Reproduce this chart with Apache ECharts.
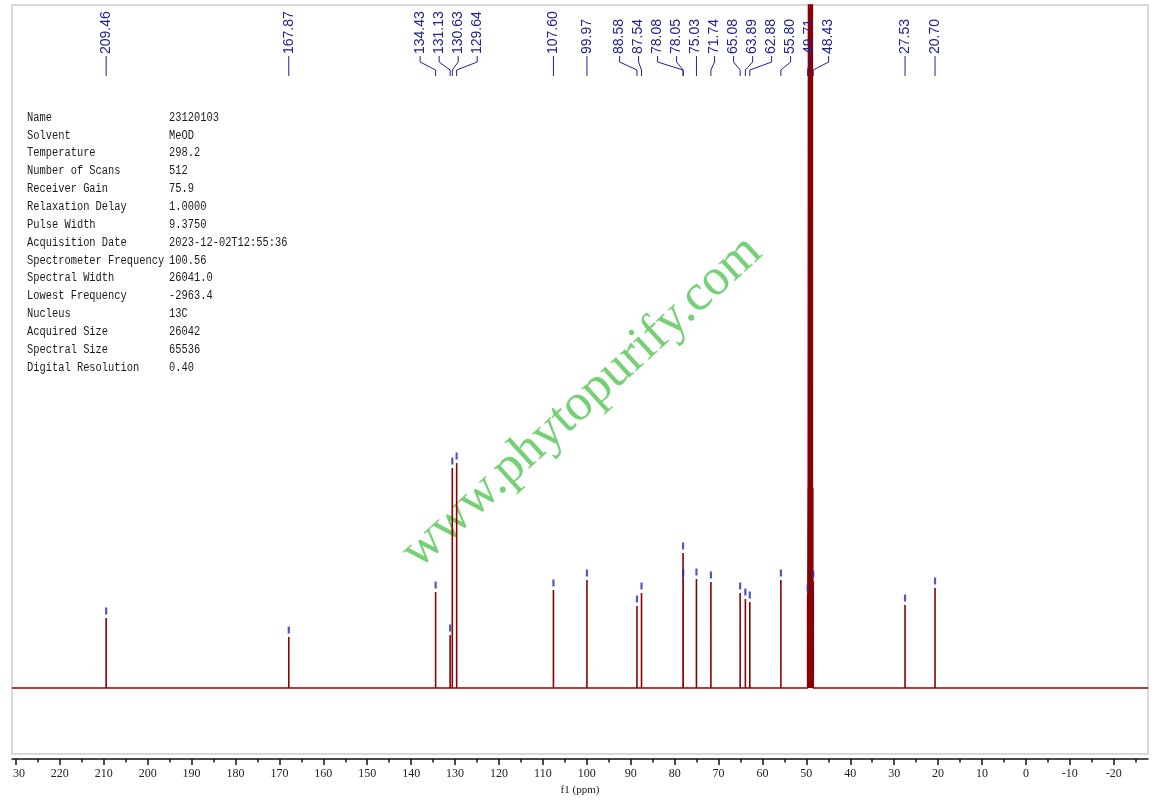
<!DOCTYPE html>
<html>
<head>
<meta charset="utf-8">
<title>13C NMR</title>
<script src="https://cdn.jsdelivr.net/npm/echarts@6.0.0/dist/echarts.min.js"></script>
<style>
  html, body { margin: 0; padding: 0; background: #fff; }
  #main { width: 1160px; height: 804px; }
</style>
</head>
<body>
<div id="main"></div>
<script>
// picked peaks (ppm) and their heights (arbitrary intensity)
const peakPpm = [209.46, 167.87, 134.43, 131.13, 130.63, 129.64, 107.60, 99.97,
  88.58, 87.54, 78.08, 78.05, 75.03, 71.74, 65.08, 63.89, 62.88, 55.80,
  49.71, 48.43, 27.53, 20.70];
const peakHeight = [70, 51, 96, 53, 220, 225, 98, 108,
  82, 95, 135, 108, 109, 106, 95, 89, 86, 108,
  93, 107, 83, 100];

// MeOD septet inner lines (not labelled, go off scale)
const solventPpm = [49.60, 49.50, 49.28, 49.07, 48.86, 48.64, 48.54];
const solventHeight = [200, 800, 1000, 1100, 1000, 800, 200];

const tickValues = [230, 220, 210, 200, 190, 180, 170, 160, 150, 140, 130, 120,
  110, 100, 90, 80, 70, 60, 50, 40, 30, 20, 10, 0, -10, -20];
const minorTickValues = [225, 215, 205, 195, 185, 175, 165, 155, 145, 135, 125,
  115, 105, 95, 85, 75, 65, 55, 45, 35, 25, 15, 5, -5, -15, -25];

const paramNames = ['Name', 'Solvent', 'Temperature', 'Number of Scans', 'Receiver Gain',
  'Relaxation Delay', 'Pulse Width', 'Acquisition Date', 'Spectrometer Frequency',
  'Spectral Width', 'Lowest Frequency', 'Nucleus', 'Acquired Size', 'Spectral Size',
  'Digital Resolution'];
const paramValues = ['23120103', 'MeOD', '298.2', '512', '75.9', '1.0000', '9.3750',
  '2023-12-02T12:55:36', '100.56', '26041.0', '-2963.4', '13C', '26042', '65536', '0.40'];

const ppmMax = 230.9;
const ppmMin = -27.8;

const LABEL_COLOR = '#22228e';
const SPEC_COLOR = '#8b0000';

// spectrum as spikes on a flat baseline
function buildSpectrum() {
  const lines = [];
  peakPpm.forEach((p, i) => lines.push([p, peakHeight[i]]));
  solventPpm.forEach((p, i) => lines.push([p, solventHeight[i]]));
  lines.sort((a, b) => b[0] - a[0]);
  const pts = [[ppmMax, 0]];
  lines.forEach(l => {
    pts.push([l[0], 0], [l[0], l[1]], [l[0], 0]);
  });
  pts.push([ppmMin, 0]);
  return pts;
}

const chart = echarts.init(document.getElementById('main'), null, { renderer: 'canvas' });

const option = {
  animation: false,
  backgroundColor: '#fff',
  grid: {
    left: 12, right: 12, top: 5, bottom: 50,
    show: true, borderColor: '#cdcdcd', borderWidth: 1.5
  },
  xAxis: [{
    type: 'value', min: ppmMin, max: ppmMax, inverse: true,
    position: 'bottom', offset: 5,
    axisLine: { show: true, onZero: false, lineStyle: { color: '#111', width: 1.5 } },
    axisTick: { show: true, customValues: tickValues, length: 6, lineStyle: { color: '#111', width: 1.5 } },
    axisLabel: {
      show: true, customValues: tickValues, margin: 9,
      fontFamily: 'Liberation Serif', fontSize: 12, color: '#222'
    },
    splitLine: { show: false },
    name: 'f1 (ppm)', nameLocation: 'middle', nameGap: 26,
    nameTextStyle: { fontFamily: 'Liberation Serif', fontSize: 11, color: '#222' }
  }, {
    type: 'value', min: ppmMin, max: ppmMax, inverse: true,
    position: 'bottom', offset: 5,
    axisLine: { show: false, onZero: false },
    axisTick: { show: true, customValues: minorTickValues, length: 3.5, lineStyle: { color: '#111', width: 1.5 } },
    axisLabel: { show: false },
    splitLine: { show: false }
  }],
  yAxis: { type: 'value', min: -66, max: 683, show: false },
  series: [{
    type: 'line',
    data: buildSpectrum(),
    showSymbol: false,
    clip: true,
    lineStyle: { color: SPEC_COLOR, width: 1.6 },
    z: 3
  }, {
    type: 'scatter',
    data: peakPpm.map((p, i) => [p, peakHeight[i]]),
    symbol: 'rect',
    symbolSize: [2.2, 7],
    symbolOffset: [0, -7],
    itemStyle: { color: '#2a2ab8' },
    z: 4
  }]
};

chart.setOption(option);

// spread clustered labels apart (pool adjacent blocks, centre on mean)
function spreadLabels(xs, gap) {
  const order = xs.map((x, i) => i).sort((a, b) => xs[a] - xs[b]);
  const blocks = [];
  order.forEach(i => {
    blocks.push({ items: [i], sum: xs[i], start: xs[i] });
    while (blocks.length > 1) {
      const cur = blocks[blocks.length - 1];
      const prev = blocks[blocks.length - 2];
      if (prev.start + prev.items.length * gap <= cur.start) break;
      prev.items = prev.items.concat(cur.items);
      prev.sum += cur.sum;
      prev.start = prev.sum / prev.items.length - (prev.items.length - 1) * gap / 2;
      blocks.pop();
    }
  });
  const out = [];
  blocks.forEach(b => b.items.forEach((i, k) => { out[i] = b.start + k * gap; }));
  return out;
}

const elements = [];

// watermark
elements.push({
  type: 'text', x: 582, y: 402, rotation: 0.74, z: 1,
  style: {
    text: 'www.phytopurify.com', font: '52px "Liberation Serif"',
    fill: '#76d176', align: 'center', verticalAlign: 'middle'
  }
});

// acquisition parameters
paramNames.forEach((n, i) => {
  const y = 117.5 + i * 17.86;
  elements.push({
    type: 'text', x: 27, y: y, scaleX: 0.866, z: 10,
    style: { text: n, font: '12px "Liberation Mono"', fill: '#1a1a1a', verticalAlign: 'middle' }
  });
  elements.push({
    type: 'text', x: 169, y: y, scaleX: 0.866, z: 10,
    style: { text: paramValues[i], font: '12px "Liberation Mono"', fill: '#1a1a1a', verticalAlign: 'middle' }
  });
});

// peak labels with connectors
const peakX = peakPpm.map(p => chart.convertToPixel({ xAxisIndex: 0 }, p));
const labelX = spreadLabels(peakX, 19);
peakPpm.forEach((p, i) => {
  const lx = labelX[i], px = peakX[i];
  elements.push({
    type: 'text', x: lx, y: 54, rotation: Math.PI / 2, z: 10,
    style: {
      text: p.toFixed(2), font: '14px "Liberation Sans"',
      fill: LABEL_COLOR, align: 'left', verticalAlign: 'middle'
    }
  });
  const pts = Math.abs(lx - px) < 1
    ? [[px, 56], [px, 76]]
    : [[lx, 56], [lx, 62], [px, 70], [px, 76]];
  elements.push({
    type: 'polyline', z: 10,
    shape: { points: pts },
    style: { stroke: LABEL_COLOR, lineWidth: 1, fill: null }
  });
});

// left edge of the frame cuts the first tick label
elements.push({
  type: 'rect', z: 20,
  shape: { x: 0, y: 766, width: 12.5, height: 20 },
  style: { fill: '#fff' }
});

chart.setOption({ graphic: elements });
</script>
</body>
</html>
